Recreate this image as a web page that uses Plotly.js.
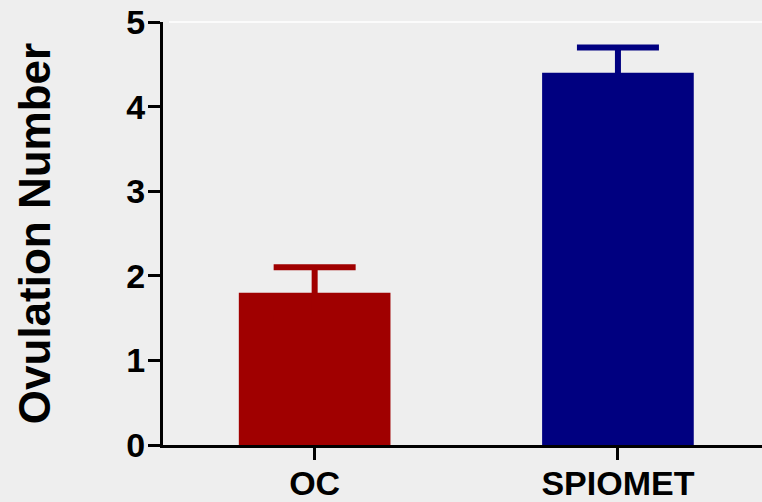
<!DOCTYPE html>
<html>
<head>
<meta charset="utf-8">
<script src="https://cdn.plot.ly/plotly-3.0.1.min.js"></script>
<style>html,body{margin:0;padding:0;background:#eeeeee;}</style>
</head>
<body>
<div id="chart" style="width:762px;height:502px;"></div>
<script>
const categories = ["OC", "SPIOMET"];
const values = [1.8, 4.4];
const errors = [0.3, 0.3];
const barColors = ["#a00000", "#000080"];
const yTicks = [0, 1, 2, 3, 4, 5];

const traces = categories.map((c, i) => ({
  type: "bar",
  x: [c],
  y: [values[i]],
  width: 0.5,
  marker: {color: barColors[i], line: {width: 0}},
  error_y: {type: "data", symmetric: true, array: [errors[i]],
            color: barColors[i], thickness: 6, width: 41},
  showlegend: false,
  hoverinfo: "skip"
}));

const layout = {
  width: 762, height: 502,
  margin: {l: 163, r: 0, t: 22, b: 57},
  paper_bgcolor: "#eeeeee",
  plot_bgcolor: "#eeeeee",
  font: {family: "Liberation Sans, Arial, sans-serif", color: "#000"},
  xaxis: {
    type: "category",
    range: [-0.5, 1.475],
    showline: true, linecolor: "#000", linewidth: 3,
    ticks: "outside", ticklen: 12, tickwidth: 3, tickcolor: "#000",
    ticklabelstandoff: -6,
    tickfont: {size: 34, family: "Liberation Sans, Arial, sans-serif", weight: "bold"},
    showgrid: false, zeroline: false, fixedrange: true
  },
  yaxis: {
    range: [0, 5],
    tickvals: yTicks,
    showline: true, linecolor: "#000", linewidth: 3,
    ticks: "outside", ticklen: 12, tickwidth: 3, tickcolor: "#000",
    ticklabelstandoff: -4,
    tickfont: {size: 34, family: "Liberation Sans, Arial, sans-serif", weight: "bold"},
    showgrid: false, zeroline: false, fixedrange: true,
    title: {text: "Ovulation Number", standoff: 62,
            font: {size: 44, family: "Liberation Sans, Arial, sans-serif", weight: "bold"}}
  },
  shapes: [
    {type: "line", xref: "paper", yref: "paper", x0: 0.01, x1: 1, y0: 1, y1: 1,
     line: {color: "#ffffff", width: 1.5}, layer: "below"}
  ]
};

Plotly.newPlot("chart", traces, layout, {displayModeBar: false, staticPlot: true});
</script>
</body>
</html>
